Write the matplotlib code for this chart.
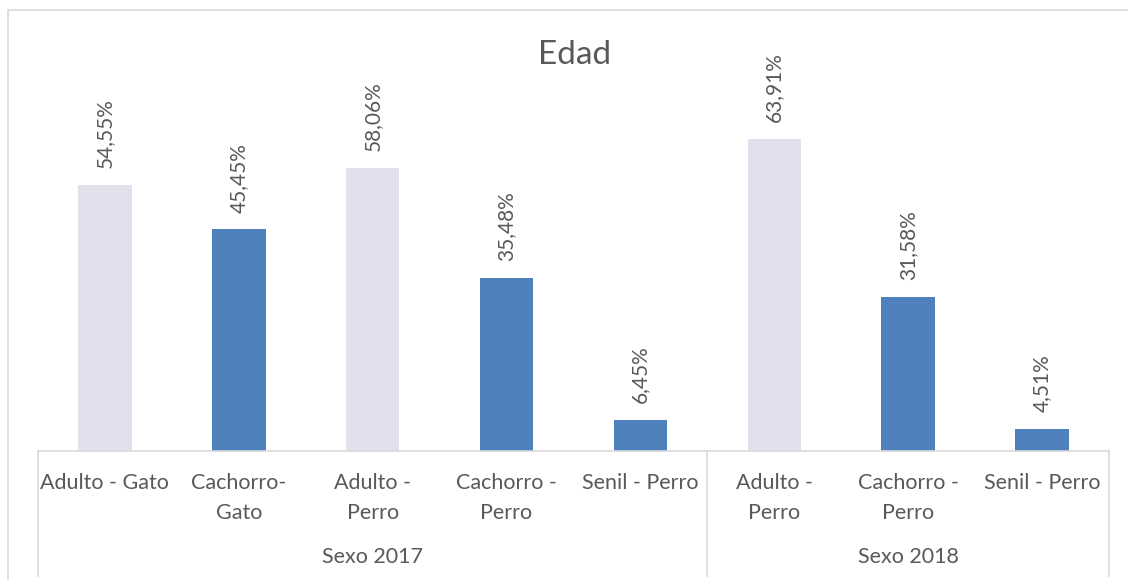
import matplotlib.pyplot as plt
from matplotlib.lines import Line2D
from matplotlib.patches import Rectangle

categories = ['Adulto - Gato', 'Cachorro-\nGato', 'Adulto -\nPerro', 'Cachorro -\nPerro',
              'Senil - Perro', 'Adulto -\nPerro', 'Cachorro -\nPerro', 'Senil - Perro']
values = [54.55, 45.45, 58.06, 35.48, 6.45, 63.91, 31.58, 4.51]
bar_colors = ['#E4DFEC', '#4F81BD', '#E4DFEC', '#4F81BD', '#4F81BD', '#E4DFEC', '#4F81BD', '#4F81BD']
groups = ['Sexo 2017', 'Sexo 2018']
group_sizes = [5, 3]

plt.rcParams['font.family'] = ['Lato', 'DejaVu Sans']
W, H = 1128, 580
fig = plt.figure(figsize=(W / 100, H / 100), dpi=100)

def fx(px):
    return px / W

def fy(py):
    return 1 - py / H

grid_c = '#D9D9D9'
txt_c = '#595959'

# chart area border (cropped on right and bottom)
fig.patches.append(Rectangle((fx(8), fy(700)), fx(1200), fy(10) - fy(700),
                             transform=fig.transFigure, fill=False, edgecolor=grid_c, lw=1.2))

left, right, base, top = 38, 1109, 451, 109.4
ax = fig.add_axes([fx(left), fy(base), fx(right - left), fy(top) - fy(base)])
x = list(range(len(values)))
ax.bar(x, values, width=0.4, color=bar_colors)
ax.set_xlim(-0.5, len(values) - 0.5)
ax.set_ylim(0, 70)
for s in ['top', 'left', 'right']:
    ax.spines[s].set_visible(False)
ax.spines['bottom'].set_color(grid_c)
ax.spines['bottom'].set_linewidth(1.2)
ax.set_yticks([])
ax.set_xticks(x)
ax.set_xticklabels(categories, fontsize=15.5, color=txt_c, linespacing=1.6, va='top')
ax.tick_params(axis='x', length=0, pad=16)

for xi, v in zip(x, values):
    ax.annotate(f'{v:.2f}%'.replace('.', ','), (xi, v), xytext=(0, 12), textcoords='offset points',
                rotation=90, ha='center', va='bottom', fontsize=15, color=txt_c)

# group separators and labels
xt = ax.get_xaxis_transform()
bounds = [0]
for g in group_sizes:
    bounds.append(bounds[-1] + g)
for b in bounds:
    ax.add_line(Line2D([b - 0.5, b - 0.5], [0, -0.365], transform=xt,
                       color=grid_c, lw=1.2, clip_on=False))
for i, g in enumerate(groups):
    mid = (bounds[i] + bounds[i + 1] - 1) / 2
    ax.text(mid, -0.311, g, transform=xt, ha='center', va='center',
            fontsize=15.5, color=txt_c)

fig.text(fx(575), fy(55), 'Edad', ha='center', va='center', fontsize=24, color=txt_c)

fig.savefig('out.png', dpi=100, facecolor='white')
